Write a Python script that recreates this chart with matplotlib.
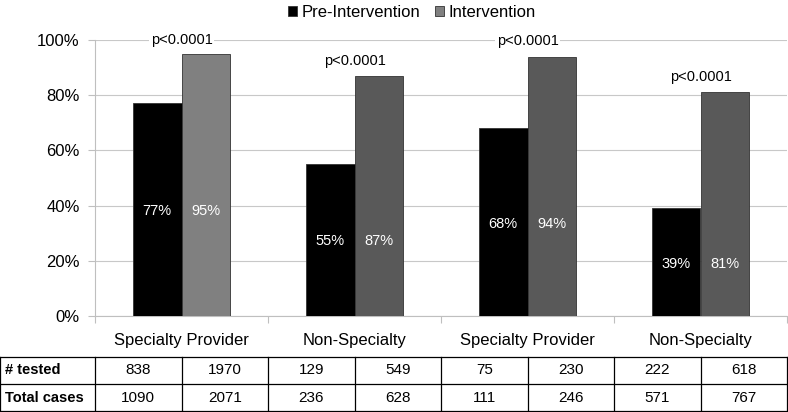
import matplotlib.pyplot as plt
import numpy as np

plt.rcParams['font.family'] = ['Liberation Sans', 'DejaVu Sans']

categories = ['Specialty Provider', 'Non-Specialty', 'Specialty Provider', 'Non-Specialty']
pre = [77, 55, 68, 39]
post = [95, 87, 94, 81]
p_labels = ['p<0.0001', 'p<0.0001', 'p<0.0001', 'p<0.0001']
post_colors = ['#808080', '#595959', '#595959', '#595959']
row_labels = ['# tested', 'Total cases']
tested = [838, 1970, 129, 549, 75, 230, 222, 618]
total = [1090, 2071, 236, 628, 111, 246, 571, 767]

W, H = 788, 412
fig = plt.figure(figsize=(W / 100, H / 100), dpi=100)
ax_l, ax_r, ax_t, ax_b = 95, 787, 40, 316
ax = fig.add_axes([ax_l / W, 1 - ax_b / H, (ax_r - ax_l) / W, (ax_b - ax_t) / H])

x = np.arange(len(categories))
bw = 0.283
b1 = ax.bar(x - bw / 2, pre, bw, color='black', edgecolor='#333333', linewidth=0.6,
            label='Pre-Intervention', zorder=3)
b2 = ax.bar(x + bw / 2, post, bw, color=post_colors, edgecolor='#333333', linewidth=0.6,
            label='Intervention', zorder=3)

for i in range(len(x)):
    ax.text(x[i] - bw / 2, pre[i] / 2 - 0.5, f'{pre[i]}%', color='white', ha='center', va='center',
            fontsize=10.5, zorder=4)
    ax.text(x[i] + bw / 2, pre[i] / 2 - 0.5, f'{post[i]}%', color='white', ha='center', va='center',
            fontsize=10.5, zorder=4)
    ax.text(x[i], min(post[i] + 5.5, 100), p_labels[i], ha='center', va='center', fontsize=10.5,
            zorder=4, bbox=dict(facecolor='white', edgecolor='none', pad=1.5))

ax.set_xlim(-0.5, len(x) - 0.5)
ax.set_ylim(0, 100)
ax.set_yticks(range(0, 101, 20))
ax.set_yticklabels([f'{v}%' for v in range(0, 101, 20)], fontsize=12)
ax.yaxis.grid(True, color='#c8c8c8', linewidth=0.8, zorder=0)
ax.set_xticks(np.arange(-0.5, len(x), 1.0))
ax.set_xticklabels([])
ax.set_xticks(x, minor=True)
ax.set_xticklabels(categories, minor=True, fontsize=12)
ax.tick_params(axis='x', which='minor', length=0, pad=12)
ax.tick_params(axis='x', which='major', length=5, color='#bfbfbf')
ax.tick_params(axis='y', length=5, color='#bfbfbf', pad=6)
for s in ['top', 'right']:
    ax.spines[s].set_visible(False)
for s in ['left', 'bottom']:
    ax.spines[s].set_color('#bfbfbf')

fig.legend(handles=[b1, b2], loc='upper center', bbox_to_anchor=(412 / W, 1.025), ncol=2,
           frameon=False, fontsize=12, handlelength=0.5, handleheight=0.5,
           handletextpad=0.3, columnspacing=0.9)

# table under the chart
t_top, t_bot = 357, 411
tax = fig.add_axes([0, 1 - t_bot / H, ax_r / W, (t_bot - t_top) / H])
tax.set_xlim(0, ax_r)
tax.set_ylim(0, 2)
tax.axis('off')
ncol = len(tested)
cw = (ax_r - ax_l) / ncol
edges = [0] + [ax_l + k * cw for k in range(ncol + 1)]
lw = 0.9
for e in edges:
    tax.plot([e, e], [0, 2], color='black', lw=lw, clip_on=False)
for r in [0, 1, 2]:
    tax.plot([0, ax_r], [r, r], color='black', lw=lw, clip_on=False)
for r, (lab, vals) in enumerate(zip(row_labels, [tested, total])):
    yc = 1.5 - r
    tax.text(5, yc, lab, ha='left', va='center', fontsize=10.5, fontweight='bold')
    for k, v in enumerate(vals):
        tax.text(ax_l + (k + 0.5) * cw, yc, str(v), ha='center', va='center', fontsize=11)

fig.savefig('out.png', dpi=100)
